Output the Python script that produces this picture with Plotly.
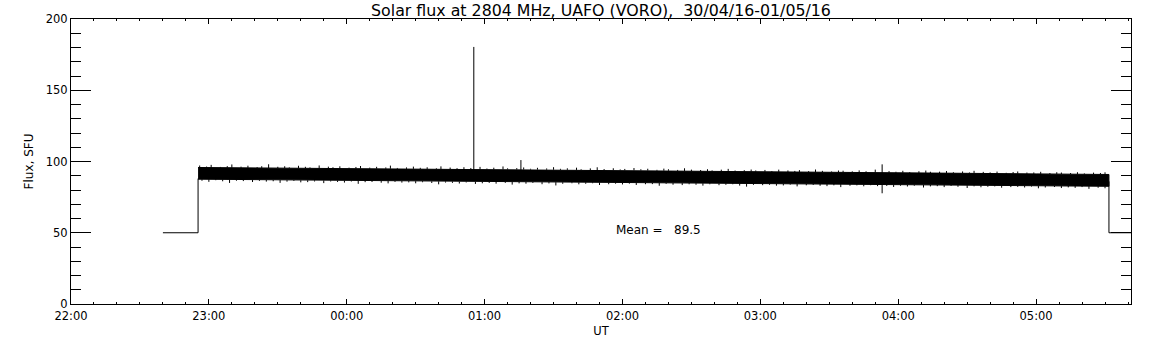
import plotly.graph_objects as go
import pandas as pd

# ---- data (minutes after 2016-04-30 22:00 UT) ----
day0 = pd.Timestamp("2016-04-30 22:00")

# solid core of the dense flux record: upper / lower edge, SFU
env_min = [55.3, 90, 120, 150, 180, 210, 240, 270, 300, 330, 360, 390, 420, 451.7]
env_upper = [95.8, 95.4, 95.1, 94.8, 94.5, 94.2, 93.8, 93.3, 92.8, 92.4, 92.1, 91.7, 91.3, 90.9]
env_lower = [87.6, 87.0, 86.6, 86.2, 85.8, 85.5, 85.2, 84.8, 84.5, 84.2, 83.8, 83.4, 83.0, 82.6]

# noise excursions above the core: time (min) and height above core edge (SFU)
up_min = [56, 59, 61, 65, 68, 70, 74, 77, 81, 83, 86, 90, 93, 95, 99, 102, 104, 108,
          112, 114, 117, 121, 124, 126, 130, 133, 137, 139, 142, 146, 149, 152, 155,
          159, 161, 165, 168, 171, 174, 178, 181, 184, 188, 190, 194, 197, 200, 203,
          207, 210, 213, 216, 220, 222, 226, 229, 232, 236, 239, 241, 245, 248, 251,
          255, 258, 260, 264, 267, 270, 274, 277, 279, 283, 286, 289, 293, 296, 298,
          302, 305, 308, 312, 315, 317, 321, 324, 327, 331, 334, 336, 340, 343, 346,
          350, 356, 359, 362, 365, 369, 372, 374, 378, 381, 384, 388, 391, 393, 397,
          400, 403, 407, 410, 412, 416, 419, 422, 426, 429, 431, 435, 438, 441, 445,
          448, 450]
up_len = [1.4, 0.7, 1.9, 0.5, 1.1, 2.3, 0.8, 1.5, 0.6, 1.2,
          2.6, 0.9, 1.3, 0.5, 1.7, 1.0, 0.6, 2.0, 1.2, 0.8,
          1.5, 0.6, 1.1, 1.8, 0.7, 1.3, 0.9, 2.2, 0.6, 1.0,
          1.6, 0.8, 1.2, 0.5, 1.9, 1.1, 0.7, 1.4, 0.9, 1.7,
          0.6, 1.2, 2.1, 0.8, 1.0, 1.5, 0.6, 1.3, 0.9, 1.8,
          0.7, 1.1, 1.6, 0.5, 1.2, 2.0, 0.8, 1.4, 0.6, 1.0,
          1.7, 0.9, 1.3, 0.6, 1.5, 1.1, 0.7, 1.9, 1.0, 0.8,
          1.4, 0.6, 1.2, 1.8, 0.7, 1.0, 1.5, 0.9, 1.3, 0.6,
          1.6, 1.1, 0.8, 1.4, 0.7, 1.9, 1.0, 0.6, 1.3, 1.2,
          0.8, 1.5, 0.9, 2.1, 1.1, 0.7, 1.4, 0.6, 1.2, 1.7,
          0.9, 1.0, 1.5, 0.7, 1.3, 0.6, 1.8, 1.1, 0.8, 1.4,
          0.6, 1.2, 1.6, 0.9, 1.0, 1.5, 0.7, 1.3, 1.1, 0.8,
          1.4, 0.6, 1.2, 1.0, 1.5]

# noise excursions below the core: time (min) and depth below core edge (SFU)
down_min = [57, 60, 63, 66, 69, 72, 75, 79, 82, 85, 88, 91, 94, 97, 100, 103, 106, 110,
            113, 116, 119, 122, 125, 128, 131, 135, 138, 141, 144, 147, 150, 153, 157,
            160, 163, 166, 169, 172, 176, 179, 182, 185, 189, 192, 195, 198, 201, 205,
            208, 211, 214, 218, 221, 224, 227, 230, 234, 237, 240, 243, 246, 250, 253,
            256, 259, 262, 266, 269, 272, 275, 278, 282, 285, 288, 291, 294, 297, 301,
            304, 307, 310, 313, 316, 320, 323, 326, 329, 332, 335, 339, 342, 345, 348,
            351, 355, 358, 361, 364, 367, 371, 374, 377, 380, 383, 386, 390, 393, 396,
            399, 402, 405, 409, 412, 415, 418, 421, 424, 428, 431, 434, 437, 440, 443,
            447, 450]
down_len = [1.1, 1.8, 0.6, 1.3, 2.4, 0.8, 1.0, 1.6, 0.7, 1.2,
            0.9, 2.0, 1.1, 0.6, 1.5, 1.3, 0.8, 1.9, 0.7, 1.0,
            1.4, 0.6, 2.2, 1.0, 0.8, 1.3, 1.7, 0.6, 1.1, 0.9,
            1.5, 0.7, 1.2, 2.1, 0.8, 1.0, 1.4, 0.6, 1.6, 1.1,
            0.8, 1.3, 0.7, 1.9, 1.0, 1.2, 0.6, 1.5, 0.9, 2.3,
            1.1, 0.7, 1.4, 1.0, 0.6, 1.8, 1.2, 0.8, 1.3, 0.7,
            1.6, 1.0, 0.9, 2.0, 0.6, 1.2, 1.4, 0.8, 1.1, 1.7,
            0.7, 1.3, 1.0, 0.6, 1.5, 2.2, 0.9, 1.1, 0.8, 1.4,
            1.2, 0.6, 1.8, 1.0, 0.7, 1.3, 1.5, 0.9, 2.1, 1.1,
            0.8, 1.4, 0.6, 1.2, 1.0, 1.7, 0.8, 1.3, 0.7, 1.9,
            1.1, 0.9, 1.5, 0.6, 1.2, 2.0, 0.8, 1.4, 1.0, 0.7,
            1.6, 1.1, 0.9, 1.3, 0.6, 1.8, 1.2, 0.8, 1.5, 1.0,
            1.3, 0.7, 1.9, 1.1, 1.4]

# calibration level before / after the record
pre_min = [40.0, 55.3, 55.3]
pre_val = [50, 50, 88]
post_min = [451.7, 451.7, 470.0]
post_val = [86, 50, 50]

# isolated spikes: time, base, tip
spike_min = [175.3, 195.8, 353.0]
spike_lo = [92, 93, 77.7]
spike_hi = [180.4, 101, 98]

mean_flux = 89.5
title_text = "Solar flux at 2804 MHz, UAFO (VORO),\u00a0\u00a030/04/16-01/05/16"
x_start_min, x_end_min = 0, 461.3


def t(m):
    return day0 + pd.to_timedelta(m, unit="m")


LINE = dict(color="black", width=1)
fig = go.Figure()

band_x = [t(m) for m in env_min] + [t(m) for m in env_min[::-1]]
band_y = env_upper + env_lower[::-1]
fig.add_trace(go.Scatter(x=band_x, y=band_y, fill="toself", fillcolor="black",
                         mode="lines", line=LINE, hoverinfo="skip", showlegend=False))


def core_at(m, mins, vals):
    # edge of the core band at a given time (base of a noise excursion)
    for i in range(len(mins) - 1):
        if mins[i] <= m <= mins[i + 1]:
            f = (m - mins[i]) / (mins[i + 1] - mins[i])
            return vals[i] + f * (vals[i + 1] - vals[i])
    return vals[-1]


nx, ny = [], []
for m, d in zip(up_min, up_len):
    base = core_at(m, env_min, env_upper)
    nx += [t(m), t(m), None]
    ny += [base, base + d, None]
for m, d in zip(down_min, down_len):
    base = core_at(m, env_min, env_lower)
    nx += [t(m), t(m), None]
    ny += [base, base - d, None]
fig.add_trace(go.Scatter(x=nx, y=ny, mode="lines", line=LINE, showlegend=False))

fig.add_trace(go.Scatter(x=[t(m) for m in pre_min], y=pre_val, mode="lines",
                         line=LINE, showlegend=False))
fig.add_trace(go.Scatter(x=[t(m) for m in post_min], y=post_val, mode="lines",
                         line=LINE, showlegend=False))

sx, sy = [], []
for m, lo, hi in zip(spike_min, spike_lo, spike_hi):
    sx += [t(m), t(m), None]
    sy += [lo, hi, None]
fig.add_trace(go.Scatter(x=sx, y=sy, mode="lines", line=LINE, showlegend=False))

fig.add_annotation(x=t(236.5), y=52, xref="x", yref="y",
                   text=f"Mean =\u00a0\u00a0\u00a0{mean_flux}", showarrow=False,
                   xanchor="left", yanchor="middle",
                   font=dict(family="DejaVu Sans", size=12, color="black"))

fig.update_layout(
    width=1152, height=345,
    margin=dict(l=71, r=21, t=19, b=41),
    paper_bgcolor="white", plot_bgcolor="white",
    title=dict(text=title_text, xref="paper", x=0.5, xanchor="center",
               yref="container", y=1 - 10 / 345, yanchor="middle",
               font=dict(family="DejaVu Sans", size=15.8, color="black")),
    font=dict(family="DejaVu Sans", size=11.5, color="black"),
    showlegend=False,
)

fig.update_xaxes(
    range=[t(x_start_min), t(x_end_min)], type="date", automargin=False,
    dtick=3600000, tick0=t(0), tickformat="%H:%M",
    ticks="inside", ticklen=5, tickcolor="black", tickwidth=1,
    ticklabelstandoff=1,
    minor=dict(dtick=600000, tick0=t(0), ticks="inside", ticklen=2,
               tickcolor="black", tickwidth=1, showgrid=False),
    showline=True, linecolor="black", linewidth=1, mirror="ticks",
    showgrid=False, zeroline=False,
    title=dict(text="UT", standoff=5, font=dict(size=11.5)),
    tickfont=dict(size=11.5),
)
fig.update_yaxes(
    range=[0, 200], dtick=50, tick0=0, automargin=False,
    ticks="inside", ticklen=20, tickcolor="black", tickwidth=1,
    minor=dict(dtick=10, ticks="inside", ticklen=10, tickcolor="black",
               tickwidth=1, showgrid=False),
    showline=True, linecolor="black", linewidth=1, mirror="ticks",
    showgrid=False, zeroline=False,
    title=dict(text="Flux, SFU", standoff=9, font=dict(size=12)),
    tickfont=dict(size=11.5),
)

fig.write_html("out.html", config={"displayModeBar": False},
               post_script="document.body.style.margin='0';")
